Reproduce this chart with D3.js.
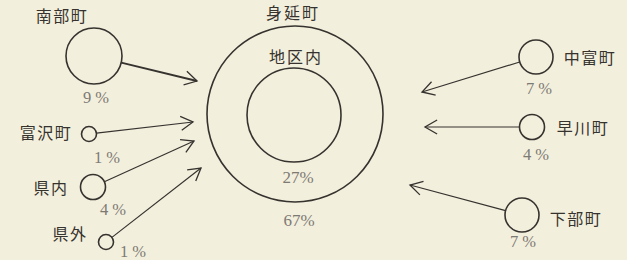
<!DOCTYPE html>
<html><head><meta charset="utf-8">
<script src="https://cdn.jsdelivr.net/npm/d3@7"></script>
<style>
html,body{margin:0;padding:0;background:#f3efdd;}
svg{display:block;}
</style></head>
<body>
<svg id="c" width="627" height="260"></svg>
<script>
// ---- data ----
const origins = ["南部町","富沢町","県内","県外","中富町","早川町","下部町"];
const shares  = [9, 1, 4, 1, 7, 4, 7];
const centerTitle = "身延町";
const innerLabel = "地区内";
const innerShare = 27;
const outerShare = 67;

// ---- layout (styling) ----
const W = 627, H = 260;
const svg = d3.select("#c");
svg.append("rect").attr("width",W).attr("height",H).attr("fill","#f3efdd");

const ink = "#36332f", grey = "#7d7a74";
const jp = "'Noto Sans CJK JP','Noto Sans CJK SC',sans-serif";
const serif = "'Liberation Serif','DejaVu Serif',serif";

// radius scale (hand-drawn sizes, grow with share)
const r = d3.scaleLinear().domain([1,4,7,9]).range([7.5,12.5,17,28]);
// big circles sized by share
const bigR = d3.scaleLinear().domain([0,67]).range([0,88]);

const cx = 295, cy = 114;
// node anchor positions (layout) and arrow targets
const pos = {
  "南部町": {x:94,  y:56,  tx:197, ty:81,  lab:[62,16,"middle"],  pct:[96,97],  w:2},
  "富沢町": {x:89,  y:134, tx:193, ty:122, lab:[46,133,"middle"], pct:[107,157], w:1.2},
  "県内":   {x:93,  y:187, tx:194, ty:141, lab:[51,188,"middle"], pct:[113,209], w:1.2},
  "県外":   {x:106, y:242, tx:201, ty:168, lab:[70,234,"middle"], pct:[133,251], w:1.2},
  "中富町": {x:536, y:57,  tx:422, ty:92,  lab:[590,58,"middle"], pct:[539,88],  w:1.2},
  "早川町": {x:532, y:127, tx:425, ty:127, lab:[583,128,"middle"],pct:[536,154], w:1.2},
  "下部町": {x:522, y:215, tx:410, ty:185, lab:[576,219,"middle"],pct:[523,241], w:1.2}
};

const nodes = origins.map((name,i)=>({name, share:shares[i], ...pos[name]}));

// center circles
svg.append("circle").attr("cx",cx).attr("cy",cy).attr("r",bigR(outerShare))
  .attr("fill","none").attr("stroke",ink).attr("stroke-width",1.6);
svg.append("circle").attr("cx",cx-1).attr("cy",cy+1).attr("r",bigR(outerShare)*47/88)
  .attr("fill","none").attr("stroke",ink).attr("stroke-width",1.6);

svg.append("text").attr("x",cx-2).attr("y",19).attr("text-anchor","middle")
  .attr("font-family",jp).attr("font-size",16).attr("letter-spacing",2).attr("fill",ink).text(centerTitle);
svg.append("text").attr("x",cx+1).attr("y",63).attr("text-anchor","middle")
  .attr("font-family",jp).attr("font-size",16).attr("letter-spacing",2).attr("fill",ink).text(innerLabel);
svg.append("text").attr("x",cx+3).attr("y",183).attr("text-anchor","middle")
  .attr("font-family",serif).attr("font-size",17).attr("fill",grey).text(innerShare+"%");
svg.append("text").attr("x",cx+4).attr("y",226).attr("text-anchor","middle")
  .attr("font-family",serif).attr("font-size",17).attr("fill",grey).text(outerShare+"%");

// arrows
const g = svg.append("g");
nodes.forEach(d=>{
  const rr = r(d.share);
  const ang = Math.atan2(d.ty-d.y, d.tx-d.x);
  const sx = d.x + rr*Math.cos(ang), sy = d.y + rr*Math.sin(ang);
  g.append("line").attr("x1",sx).attr("y1",sy).attr("x2",d.tx).attr("y2",d.ty)
    .attr("stroke",ink).attr("stroke-width",d.w);
  const L = 14, a = Math.PI/6;
  const p = d3.path();
  p.moveTo(d.tx - L*Math.cos(ang-a), d.ty - L*Math.sin(ang-a));
  p.lineTo(d.tx, d.ty);
  p.lineTo(d.tx - L*Math.cos(ang+a), d.ty - L*Math.sin(ang+a));
  g.append("path").attr("d",p.toString()).attr("fill","none")
    .attr("stroke",ink).attr("stroke-width",1.3);
  g.append("circle").attr("cx",d.x).attr("cy",d.y).attr("r",rr)
    .attr("fill","none").attr("stroke",ink).attr("stroke-width",1.6);
  g.append("text").attr("x",d.lab[0]).attr("y",d.lab[1]).attr("dy","0.35em")
    .attr("text-anchor",d.lab[2]).attr("font-family",jp).attr("font-size",16)
    .attr("letter-spacing",1.5).attr("fill",ink).text(d.name);
  g.append("text").attr("x",d.pct[0]).attr("y",d.pct[1]).attr("dy","0.35em")
    .attr("text-anchor","middle").attr("font-family",serif).attr("font-size",16.5)
    .attr("fill",grey).text(d.share+" %");
});
</script>
</body></html>
